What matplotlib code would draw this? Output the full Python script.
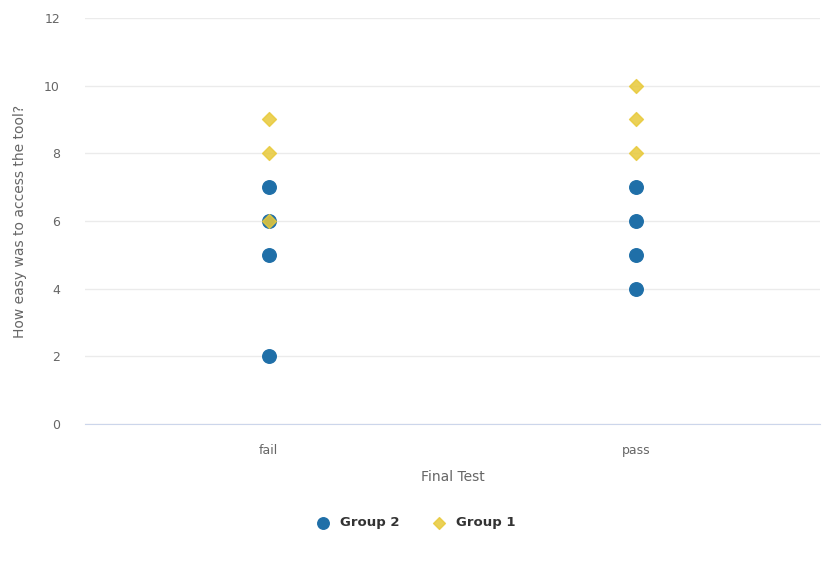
import matplotlib.pyplot as plt

categories = ['fail', 'pass']
group2_cat = [0, 0, 0, 0, 1, 1, 1, 1]
group2_vals = [7, 6, 5, 2, 7, 6, 5, 4]
group1_cat = [0, 0, 0, 1, 1, 1]
group1_vals = [9, 8, 6, 10, 9, 8]

blue = '#1f6fa8'
yellow = '#e8c93a'

fig = plt.figure(figsize=(8.25, 5.61), dpi=100)
ax = fig.add_axes([0.103, 0.244, 0.891, 0.724])

ax.scatter(group2_cat, group2_vals, s=95, color=blue, marker='o', label='Group 2', zorder=3)
ax.scatter(group1_cat, group1_vals, s=50, color=yellow, marker='D', label='Group 1',
           zorder=4, alpha=0.85)

ax.set_xlim(-0.5, 1.5)
ax.set_ylim(0, 12)
ax.set_yticks(range(0, 13, 2))
ax.set_xticks([0, 1])
ax.set_xticklabels(categories)
ax.grid(axis='y', color='#ebebeb', linewidth=1)
ax.set_axisbelow(True)
for side in ['top', 'right', 'left']:
    ax.spines[side].set_visible(False)
ax.spines['bottom'].set_color('#ccd6eb')
ax.tick_params(axis='both', length=0, labelsize=9, colors='#666666')
ax.tick_params(axis='x', pad=14)
ax.tick_params(axis='y', pad=18)

ax.set_xlabel('Final Test', fontsize=10, color='#666666', labelpad=10)
ax.set_ylabel('How easy was to access the tool?', fontsize=10, color='#666666', labelpad=12)

leg = fig.legend(loc='center', bbox_to_anchor=(0.5, 0.068), ncol=2, frameon=False,
                 fontsize=9.5, handletextpad=0.3, columnspacing=2.0, markerscale=0.85)
for t in leg.get_texts():
    t.set_color('#333333')
    t.set_fontweight('bold')

fig.savefig('out.png', dpi=100)
